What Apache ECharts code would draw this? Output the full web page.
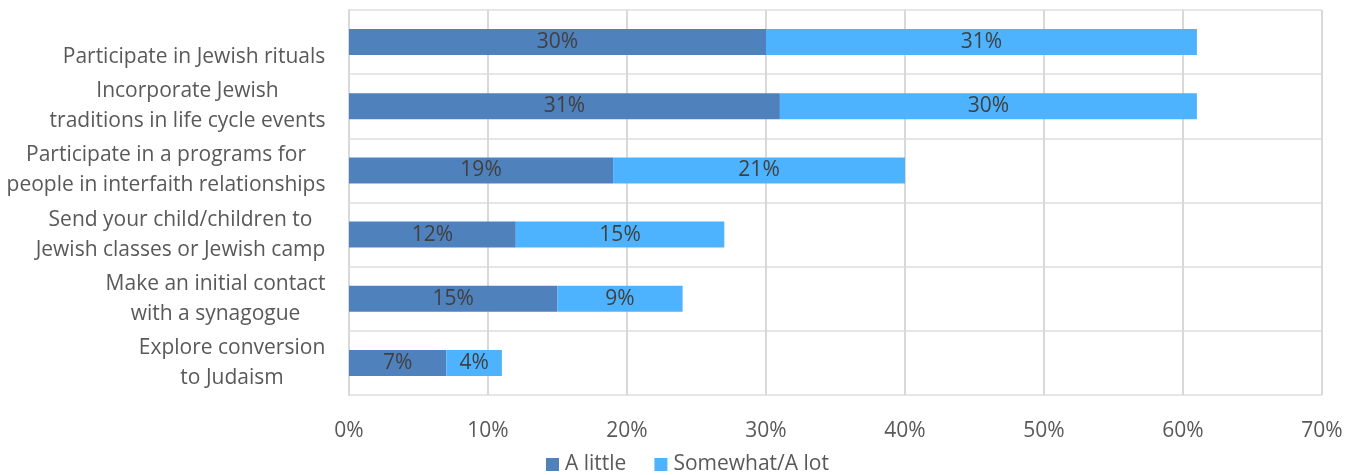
<!DOCTYPE html>
<html>
<head>
<meta charset="utf-8">
<script src="https://cdn.jsdelivr.net/npm/echarts@6/dist/echarts.min.js"></script>
<style>
  html, body { margin: 0; padding: 0; background: #fff; }
  #chart { width: 1347px; height: 475px; }
</style>
</head>
<body>
<div id="chart"></div>
<script>
// Categories listed bottom to top (category axis on y starts at the bottom)
const categories = [
  'Explore conversion\nto Judaism',
  'Make an initial contact\nwith a synagogue',
  'Send your child/children to\nJewish classes or Jewish camp',
  'Participate in a programs for\npeople in interfaith relationships',
  'Incorporate Jewish\ntraditions in life cycle events',
  'Participate in Jewish rituals'
];
const aLittle = [7, 15, 12, 19, 31, 30];
const somewhatALot = [4, 9, 15, 21, 30, 31];
const xTicks = [0, 10, 20, 30, 40, 50, 60, 70];

const font = '"Open Sans", "Noto Sans", sans-serif';
const textColor = '#595959';
const fs = 21;

// Each category label is a block whose lines are centred on one another;
// the block itself is right-aligned against the axis.
const ctx = document.createElement('canvas').getContext('2d');
ctx.font = fs + 'px ' + font;
const rich = {};
categories.forEach((c, i) => {
  const w = Math.max(...c.split('\n').map(l => ctx.measureText(l).width));
  rich['r' + i] = { width: Math.ceil(w) + 1, align: 'center', fontSize: fs, lineHeight: 30, color: textColor, fontFamily: font };
});

const chart = echarts.init(document.getElementById('chart'));
chart.setOption({
  animation: false,
  textStyle: { fontFamily: font },
  grid: { left: 349, right: 25, top: 10, bottom: 80, containLabel: false },
  legend: {
    bottom: 0,
    left: 546,
    itemWidth: 13,
    itemHeight: 13,
    itemGap: 28,
    icon: 'rect',
    padding: 0,
    textStyle: { fontFamily: font, fontSize: fs, color: textColor, padding: [0, 0, 0, 1] },
    data: ['A little', 'Somewhat/A lot']
  },
  xAxis: {
    type: 'value',
    min: xTicks[0],
    max: xTicks[xTicks.length - 1],
    interval: 10,
    axisLine: { show: false },
    axisTick: { show: false },
    splitLine: { lineStyle: { color: '#d9d9d9', width: 2 } },
    axisLabel: {
      margin: 26,
      fontFamily: font,
      fontSize: fs,
      color: textColor,
      formatter: v => v + '%'
    }
  },
  yAxis: {
    type: 'category',
    data: categories,
    axisLine: { show: true, lineStyle: { color: '#d9d9d9', width: 2 } },
    axisTick: { show: false },
    splitLine: { show: true, lineStyle: { color: '#e6e6e6', width: 2 } },
    axisLabel: {
      margin: 23,
      fontFamily: font,
      fontSize: fs,
      lineHeight: 30,
      color: textColor,
      align: 'right',
      rich: rich,
      formatter: (v, i) => {
        const lines = v.split('\n');
        // single-line names sit one line lower, like the two-line ones' second row
        const body = lines.map(l => '{r' + i + '|' + l + '}').join('\n');
        return lines.length < 2 ? '{r' + i + '| }\n' + body : body;
      }
    }
  },
  series: [
    {
      name: 'A little',
      type: 'bar',
      stack: 'total',
      barWidth: 26,
      data: aLittle,
      itemStyle: { color: '#4f81bd' },
      label: {
        show: true,
        position: 'inside',
        fontFamily: font,
        fontSize: fs,
        color: '#404040',
        formatter: p => p.value + '%'
      }
    },
    {
      name: 'Somewhat/A lot',
      type: 'bar',
      stack: 'total',
      barWidth: 26,
      data: somewhatALot,
      itemStyle: { color: '#4db3ff' },
      label: {
        show: true,
        position: 'inside',
        fontFamily: font,
        fontSize: fs,
        color: '#404040',
        formatter: p => p.value + '%'
      }
    }
  ]
});
</script>
</body>
</html>
